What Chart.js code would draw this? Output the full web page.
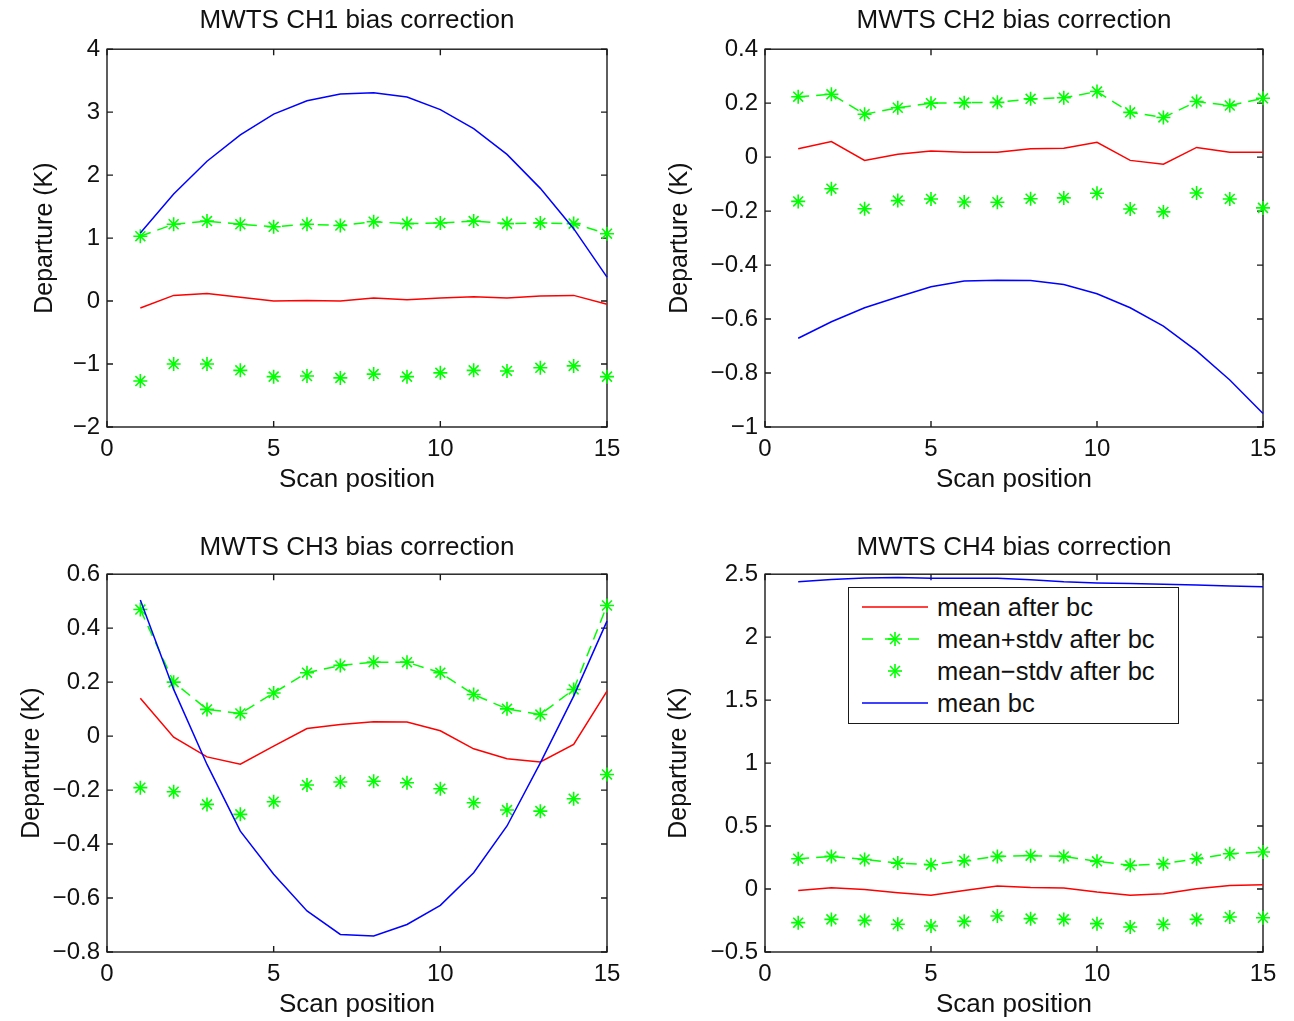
<!DOCTYPE html>
<html>
<head>
<meta charset="utf-8">
<title>MWTS bias correction</title>
<script src="https://cdn.jsdelivr.net/npm/chart.js@4.4.1/dist/chart.umd.min.js"></script>
<style>
  body { margin: 0; background: #fff; }
  #wrapper { position: relative; width: 1294px; height: 1021px; overflow: hidden; }
  #wrapper canvas { position: absolute; }
  #legend {
    position: absolute; left: 848px; top: 587px; width: 329px; height: 132px;
    border: 1.5px solid #1a1a1a; background: #fff; padding-top: 3px; box-sizing: content-box;
    font-family: "Liberation Sans", Arial, sans-serif; font-size: 25.5px; color: #111;
  }
  #legend .row { display: flex; align-items: center; height: 32px; }
  #legend svg { margin-left: 13px; margin-right: 9px; }
</style>
</head>
<body>
<div id="wrapper">
  <canvas id="ch1"></canvas>
  <canvas id="ch2"></canvas>
  <canvas id="ch3"></canvas>
  <canvas id="ch4"></canvas>
  <div id="legend"></div>
</div>
<script>
// scan positions (x) shared by every panel
const scanPos = [1, 2, 3, 4, 5, 6, 7, 8, 9, 10, 11, 12, 13, 14, 15];
const xTicks = [0, 5, 10, 15];
const legendLabels = ["mean after bc", "mean+stdv after bc", "mean\u2212stdv after bc", "mean bc"];

// CH1
const ch1Mean  = [-0.11, 0.09, 0.12, 0.06, 0.00, 0.01, 0.00, 0.05, 0.02, 0.05, 0.07, 0.05, 0.08, 0.09, -0.05];
const ch1Plus  = [1.03, 1.22, 1.27, 1.22, 1.18, 1.22, 1.20, 1.26, 1.23, 1.24, 1.27, 1.23, 1.24, 1.23, 1.07];
const ch1Minus = [-1.27, -1.00, -1.00, -1.10, -1.20, -1.19, -1.22, -1.16, -1.20, -1.14, -1.10, -1.11, -1.06, -1.03, -1.20];
const ch1Bc    = [1.08, 1.70, 2.22, 2.64, 2.97, 3.18, 3.29, 3.31, 3.24, 3.04, 2.74, 2.33, 1.79, 1.15, 0.38];
const ch1Ticks = [-2, -1, 0, 1, 2, 3, 4];

// CH2
const ch2Mean  = [0.031, 0.058, -0.012, 0.011, 0.023, 0.018, 0.018, 0.031, 0.033, 0.055, -0.012, -0.026, 0.036, 0.018, 0.018];
const ch2Plus  = [0.224, 0.233, 0.159, 0.183, 0.200, 0.202, 0.203, 0.216, 0.220, 0.243, 0.166, 0.147, 0.206, 0.191, 0.218];
const ch2Minus = [-0.164, -0.117, -0.191, -0.161, -0.155, -0.166, -0.167, -0.154, -0.151, -0.134, -0.192, -0.203, -0.133, -0.155, -0.188];
const ch2Bc    = [-0.671, -0.610, -0.558, -0.518, -0.480, -0.459, -0.456, -0.457, -0.472, -0.506, -0.558, -0.626, -0.718, -0.826, -0.950];
const ch2Ticks = [-1, -0.8, -0.6, -0.4, -0.2, 0, 0.2, 0.4];

// CH3
const ch3Mean  = [0.140, -0.004, -0.077, -0.104, -0.037, 0.028, 0.043, 0.053, 0.052, 0.020, -0.047, -0.084, -0.096, -0.031, 0.167];
const ch3Plus  = [0.469, 0.200, 0.099, 0.084, 0.160, 0.235, 0.262, 0.274, 0.274, 0.235, 0.154, 0.101, 0.080, 0.173, 0.484];
const ch3Minus = [-0.191, -0.206, -0.253, -0.290, -0.243, -0.181, -0.170, -0.167, -0.173, -0.195, -0.247, -0.274, -0.278, -0.232, -0.142];
const ch3Bc    = [0.504, 0.173, -0.105, -0.352, -0.512, -0.648, -0.735, -0.741, -0.698, -0.627, -0.506, -0.333, -0.099, 0.148, 0.426];
const ch3Ticks = [-0.8, -0.6, -0.4, -0.2, 0, 0.2, 0.4, 0.6];

// CH4
const ch4Mean  = [-0.011, 0.011, -0.003, -0.029, -0.050, -0.011, 0.024, 0.013, 0.008, -0.024, -0.050, -0.037, 0.003, 0.029, 0.034];
const ch4Plus  = [0.241, 0.259, 0.235, 0.206, 0.193, 0.225, 0.259, 0.265, 0.259, 0.220, 0.188, 0.201, 0.241, 0.280, 0.294];
const ch4Minus = [-0.267, -0.241, -0.249, -0.280, -0.294, -0.257, -0.214, -0.235, -0.241, -0.275, -0.302, -0.280, -0.241, -0.222, -0.228];
const ch4Bc    = [2.440, 2.458, 2.470, 2.474, 2.468, 2.468, 2.468, 2.455, 2.440, 2.431, 2.426, 2.420, 2.415, 2.407, 2.400];
const ch4Ticks = [-0.5, 0, 0.5, 1, 1.5, 2, 2.5];

const RED = "#ff0000";
const GREEN = "#00ff00";
const BLUE = "#0000ff";
const TEXT = "#111111";
const FONT = "'Liberation Sans', Arial, Helvetica, sans-serif";

Chart.defaults.font.family = FONT;
Chart.defaults.color = TEXT;

// where each panel sits on the page
const panels = [
  { id: "ch1", title: "MWTS CH1 bias correction", mean: ch1Mean, plus: ch1Plus, minus: ch1Minus, bc: ch1Bc, yTicks: ch1Ticks,
    x: 0, y: 0, w: 647, h: 510, plotLeft: 107, padRight: 40, titleTop: 5, titleBottom: 13, xAxisH: 83, xTitlePad: 15, yTitlePad: 30 },
  { id: "ch2", title: "MWTS CH2 bias correction", mean: ch2Mean, plus: ch2Plus, minus: ch2Minus, bc: ch2Bc, yTicks: ch2Ticks,
    x: 647, y: 0, w: 647, h: 510, plotLeft: 118, padRight: 31, titleTop: 5, titleBottom: 13, xAxisH: 83, xTitlePad: 15, yTitlePad: 18 },
  { id: "ch3", title: "MWTS CH3 bias correction", mean: ch3Mean, plus: ch3Plus, minus: ch3Minus, bc: ch3Bc, yTicks: ch3Ticks,
    x: 0, y: 510, w: 647, h: 511, plotLeft: 107, padRight: 40, titleTop: 22, titleBottom: 11, xAxisH: 69, xTitlePad: 1, yTitlePad: 17 },
  { id: "ch4", title: "MWTS CH4 bias correction", mean: ch4Mean, plus: ch4Plus, minus: ch4Minus, bc: ch4Bc, yTicks: ch4Ticks,
    x: 647, y: 510, w: 647, h: 511, plotLeft: 118, padRight: 31, titleTop: 22, titleBottom: 11, xAxisH: 69, xTitlePad: 1, yTitlePad: 17 }
];

function toXY(values) {
  return scanPos.map((x, i) => ({ x: x, y: values[i] }));
}

function fmtTick(v) {
  return String(Number(v.toFixed(2))).replace("-", "\u2212");
}

// matlab style box with inward ticks on all four sides
const framePlugin = {
  id: "frame",
  beforeDatasetsDraw(chart) {
    const { ctx, chartArea: a, scales } = chart;
    const tl = 6;
    ctx.save();
    ctx.strokeStyle = "#1a1a1a";
    ctx.lineWidth = 1.4;
    ctx.strokeRect(a.left, a.top, a.right - a.left, a.bottom - a.top);
    ctx.beginPath();
    scales.x.ticks.forEach(t => {
      const px = scales.x.getPixelForValue(t.value);
      ctx.moveTo(px, a.bottom); ctx.lineTo(px, a.bottom - tl);
      ctx.moveTo(px, a.top); ctx.lineTo(px, a.top + tl);
    });
    scales.y.ticks.forEach(t => {
      const py = scales.y.getPixelForValue(t.value);
      ctx.moveTo(a.left, py); ctx.lineTo(a.left + tl, py);
      ctx.moveTo(a.right, py); ctx.lineTo(a.right - tl, py);
    });
    ctx.stroke();
    ctx.restore();
  }
};

function makeChart(p) {
  const canvas = document.getElementById(p.id);
  canvas.width = p.w;
  canvas.height = p.h;
  canvas.style.left = p.x + "px";
  canvas.style.top = p.y + "px";

  return new Chart(canvas, {
    type: "line",
    data: {
      datasets: [
        { label: legendLabels[0], data: toXY(p.mean), borderColor: RED, borderWidth: 1.5,
          pointRadius: 0, clip: false, order: 3 },
        { label: legendLabels[1], data: toXY(p.plus), borderColor: GREEN, borderWidth: 1.5, borderDash: [11, 7],
          pointStyle: "star", pointRadius: 7, pointBorderWidth: 1.6, pointBorderColor: GREEN,
          pointBackgroundColor: GREEN, clip: false, order: 2 },
        { label: legendLabels[2], data: toXY(p.minus), borderColor: GREEN, showLine: false,
          pointStyle: "star", pointRadius: 7, pointBorderWidth: 1.6, pointBorderColor: GREEN,
          pointBackgroundColor: GREEN, clip: false, order: 1 },
        { label: legendLabels[3], data: toXY(p.bc), borderColor: BLUE, borderWidth: 1.5,
          pointRadius: 0, clip: false, order: 0 }
      ]
    },
    options: {
      responsive: false,
      animation: false,
      events: [],
      layout: { padding: { left: 0, right: p.padRight, top: 0, bottom: 0 } },
      plugins: {
        legend: { display: false },
        tooltip: { enabled: false },
        title: {
          display: true, text: p.title, color: TEXT, fullSize: false,
          font: { size: 26, weight: "normal" },
          padding: { top: p.titleTop, bottom: p.titleBottom }
        }
      },
      scales: {
        x: {
          type: "linear", min: 0, max: 15,
          afterBuildTicks: s => { s.ticks = xTicks.map(v => ({ value: v })); },
          afterFit: s => { s.height = p.xAxisH; },
          grid: { display: false, drawTicks: false },
          border: { display: false },
          ticks: { font: { size: 24 }, color: TEXT, padding: 8, maxRotation: 0, callback: v => fmtTick(v) },
          title: { display: true, text: "Scan position", color: TEXT, font: { size: 26 },
                   padding: { top: 0, bottom: p.xTitlePad } }
        },
        y: {
          type: "linear", min: p.yTicks[0], max: p.yTicks[p.yTicks.length - 1],
          afterBuildTicks: s => { s.ticks = p.yTicks.map(v => ({ value: v })); },
          afterFit: s => { s.width = p.plotLeft; },
          grid: { display: false, drawTicks: false },
          border: { display: false },
          ticks: { font: { size: 24 }, color: TEXT, padding: 7, callback: v => fmtTick(v) },
          title: { display: true, text: "Departure (K)", color: TEXT, font: { size: 25 },
                   padding: { top: p.yTitlePad, bottom: 0 } }
        }
      }
    },
    plugins: [framePlugin]
  });
}

const charts = panels.map(p => makeChart(p));

// legend box inside the CH4 panel, built from that chart's datasets
function sampleSvg(i) {
  const w = 66, h = 32, cy = 16, cx = 33, r = 7, d = r * 0.7071;
  const star = `<g stroke="${GREEN}" stroke-width="1.6">
      <line x1="${cx - r}" y1="${cy}" x2="${cx + r}" y2="${cy}"/>
      <line x1="${cx}" y1="${cy - r}" x2="${cx}" y2="${cy + r}"/>
      <line x1="${cx - d}" y1="${cy - d}" x2="${cx + d}" y2="${cy + d}"/>
      <line x1="${cx - d}" y1="${cy + d}" x2="${cx + d}" y2="${cy - d}"/></g>`;
  let inner = "";
  if (i === 0) inner = `<line x1="0" y1="${cy}" x2="${w}" y2="${cy}" stroke="${RED}" stroke-width="1.5"/>`;
  if (i === 1) inner = `<line x1="0" y1="${cy}" x2="${w}" y2="${cy}" stroke="${GREEN}" stroke-width="1.5" stroke-dasharray="11 12"/>` + star;
  if (i === 2) inner = star;
  if (i === 3) inner = `<line x1="0" y1="${cy}" x2="${w}" y2="${cy}" stroke="${BLUE}" stroke-width="1.5"/>`;
  return `<svg width="${w}" height="${h}">${inner}</svg>`;
}

const legendDiv = document.getElementById("legend");
charts[3].data.datasets.forEach((ds, i) => {
  const row = document.createElement("div");
  row.className = "row";
  row.innerHTML = sampleSvg(i) + `<span>${ds.label}</span>`;
  legendDiv.appendChild(row);
});
</script>
</body>
</html>
